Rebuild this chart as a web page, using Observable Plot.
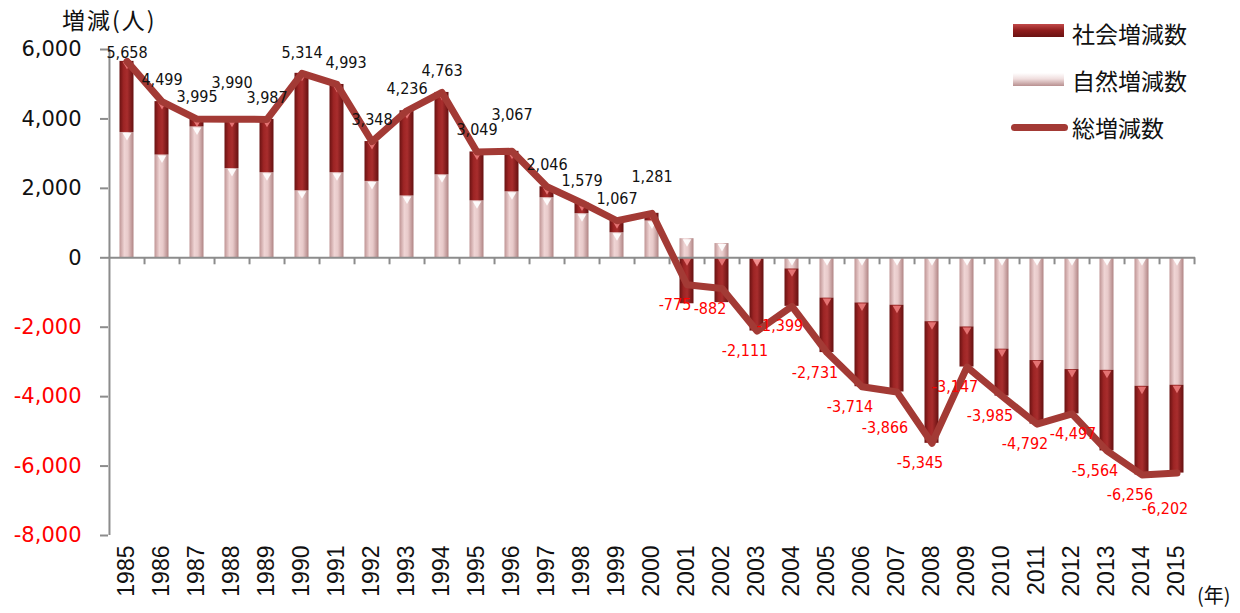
<!DOCTYPE html>
<html><head><meta charset="utf-8">
<script src="https://cdn.jsdelivr.net/npm/d3@7"></script>
<script src="https://cdn.jsdelivr.net/npm/@observablehq/plot@0.6"></script>
<style>
body{margin:0;background:#fff;}
#wrap{position:relative;width:1240px;height:613px;font-family:"Liberation Sans",Arial,sans-serif;overflow:hidden;}
.ov{position:absolute;white-space:nowrap;color:#111;}
.cjk{font-family:"Noto Sans CJK JP","Noto Sans",sans-serif;}
</style></head><body><div id="wrap"></div>
<script>
const years = [1985,1986,1987,1988,1989,1990,1991,1992,1993,1994,1995,1996,1997,1998,1999,2000,2001,2002,2003,2004,2005,2006,2007,2008,2009,2010,2011,2012,2013,2014,2015];
const totalChange = [5658,4499,3995,3990,3987,5314,4993,3348,4236,4763,3049,3067,2046,1579,1067,1281,-775,-882,-2111,-1399,-2731,-3714,-3866,-5345,-3147,-3985,-4792,-4497,-5564,-6256,-6202];
const naturalChange = [3610,2960,3770,2570,2450,1930,2450,2200,1780,2390,1640,1900,1730,1270,720,1060,550,410,-30,-320,-1160,-1300,-1365,-1840,-1990,-2630,-2960,-3220,-3240,-3700,-3670];
const socialChange = [2048,1539,225,1420,1537,3384,2543,1148,2456,2373,1409,1167,316,309,347,221,-1325,-1292,-2081,-1079,-1571,-2414,-2501,-3505,-1157,-1355,-1832,-1277,-2324,-2556,-2532];
const yTicks = [-8000,-6000,-4000,-2000,0,2000,4000,6000];
const seriesNames = ["自然増減数","社会増減数"];
const yTitle = "増減(人)";
const xUnit = "(年)";
const totalName = "総増減数";

const W = 1240, H = 613, mL = 108, mR = 45, mT = 49, mB = 78;
const bw = (W - mL - mR) / years.length;
const fmt = d => (d < 0 ? "-" : "") + d3.format(",")(Math.abs(d));
const lineColor = "#a33a35";
const labelFont = '"DejaVu Sans Condensed", "Liberation Sans Narrow", sans-serif';
const labelSize = 16;

const barRows = [
  ...years.map((y, i) => ({year: y, value: naturalChange[i], series: seriesNames[0]})),
  ...years.map((y, i) => ({year: y, value: socialChange[i], series: seriesNames[1]}))
];
const rows = years.map((y, i) => ({
  year: y, idx: i, total: totalChange[i], natural: naturalChange[i], social: socialChange[i]
}));
// top edge of each stacked segment (for the small bevel markers)
const naturalTop = d => Math.max(d.natural, 0);
const socialTop = d => d.social >= 0 ? Math.max(d.natural, 0) + d.social : Math.min(d.natural, 0);

// label placement with simple collision avoidance against the previous label
const ctx = document.createElement("canvas").getContext("2d");
ctx.font = `${labelSize}px ${labelFont}`;
const yScale = Plot.scale({y: {domain: [-8000, 6000], range: [H - mB, mT]}});
const CAND = {pos: [[0, -22], [0, -36], [9, -22], [0, -10]], neg: [[-12, 20], [-12, 36], [1, 20], [-12, 50]]};
let prev = null;
for (const d of rows) {
  const key = d.total >= 0 ? "pos" : "neg";
  const w = ctx.measureText(fmt(d.total)).width;
  const py = yScale.apply(d.total);
  const place = ([dx, dy]) => {
    if (key === "pos") dy = Math.max(dy, mT + 3 - py);
    return {dx, yl: py + dy};
  };
  const conflicts = p => prev && prev.key === key &&
    (bw + p.dx - prev.dx) < (w + prev.w) / 2 + 1 && Math.abs(p.yl - prev.yl) < 13;
  let chosen = place(CAND[key][0]);
  for (const c of CAND[key]) {
    const p = place(c);
    if (!conflicts(p)) { chosen = p; break; }
  }
  Object.assign(d, {dx: chosen.dx, ly: yScale.invert(chosen.yl), fill: key === "pos" ? "#111" : "#ff0000"});
  prev = {key, w, dx: chosen.dx, yl: chosen.yl};
}
const labelMarks = Array.from(d3.group(rows, d => d.dx + "|" + d.fill), ([, g]) =>
  Plot.text(g, {x: "year", y: "ly", text: d => fmt(d.total), dx: g[0].dx, fill: g[0].fill,
    fontSize: labelSize, fontFamily: labelFont}));

const svg = Plot.plot({
  width: W, height: H,
  marginLeft: mL, marginRight: mR, marginTop: mT, marginBottom: mB,
  x: {type: "band", domain: years, padding: 0, axis: null},
  y: {domain: [-8000, 6000], axis: null},
  color: {type: "identity"},
  style: {fontFamily: '"Liberation Sans", Arial, sans-serif', background: "white", overflow: "visible"},
  marks: [
    Plot.barY(barRows, {
      x: "year", y: "value", z: "series",
      fill: d => d.series === seriesNames[1] ? "url(#gSocial)" : "url(#gNatural)",
      insetLeft: 10.5, insetRight: 10.5
    }),
    Plot.dot(rows, {x: "year", y: naturalTop, symbol: "triangle", r: 3.2, rotate: 180, dy: 3, fill: "#ffffff", fillOpacity: 0.9}),
    Plot.dot(rows, {x: "year", y: socialTop, symbol: "triangle", r: 3.2, rotate: 180, dy: 3, fill: "#f08080", fillOpacity: 0.85}),
    Plot.ruleY([0], {stroke: "#8c8c8c", strokeWidth: 2}),
    Plot.ruleX(years, {x: d => d, dx: bw / 2, y1: 0, y2: 0, insetBottom: -7, stroke: "#8c8c8c", strokeWidth: 2}),
    Plot.ruleX([years[0]], {x: d => d, dx: -bw / 2, y1: -8000, y2: 6000, stroke: "#8c8c8c", strokeWidth: 2}),
    Plot.axisY({ticks: yTicks, tickSize: 8, tickFormat: () => "", stroke: "#8c8c8c", strokeWidth: 2}),
    Plot.text(yTicks, {y: d => d, frameAnchor: "left", dx: -27, textAnchor: "end", text: d => fmt(d),
      fill: d => d < 0 ? "#ff0000" : "#111", fontSize: 21, fontFamily: '"DejaVu Sans", sans-serif'}),
    Plot.axisX({anchor: "bottom", tickSize: 0, tickRotate: -90, tickPadding: 10, fontSize: 23, fill: "#111",
      tickFormat: d => String(d), label: null}),
    Plot.line(rows, {x: "year", y: "total", stroke: lineColor, strokeWidth: 7, strokeLinejoin: "round"}),
    ...labelMarks
  ]
});

// gradients for cylinder-like bars
const NS = "http://www.w3.org/2000/svg";
const defs = document.createElementNS(NS, "defs");
function grad(id, stops) {
  const g = document.createElementNS(NS, "linearGradient");
  g.setAttribute("id", id);
  g.setAttribute("x1", "0"); g.setAttribute("x2", "1"); g.setAttribute("y1", "0"); g.setAttribute("y2", "0");
  for (const [o, c] of stops) {
    const s = document.createElementNS(NS, "stop");
    s.setAttribute("offset", o); s.setAttribute("stop-color", c);
    g.appendChild(s);
  }
  defs.appendChild(g);
}
grad("gSocial", [["0%", "#6a1212"], ["30%", "#9e2525"], ["55%", "#a82d2d"], ["100%", "#651010"]]);
grad("gNatural", [["0%", "#bf9494"], ["35%", "#efd4d4"], ["60%", "#e8caca"], ["100%", "#b08484"]]);
svg.insertBefore(defs, svg.firstChild);

const wrap = document.getElementById("wrap");
wrap.appendChild(svg);
svg.style.position = "absolute"; svg.style.left = "0"; svg.style.top = "0";

function ov(html, css, cls) {
  const d = document.createElement("div");
  d.className = "ov " + (cls || "");
  d.textContent = html;
  Object.assign(d.style, css);
  wrap.appendChild(d);
  return d;
}
ov(yTitle, {left: "62px", top: "2px", fontSize: "23px", letterSpacing: "2px"}, "cjk");
ov(xUnit, {left: "1197px", top: "580px", fontSize: "20px"}, "cjk");
// legend
ov("", {left: "1013px", top: "24px", width: "51px", height: "13px", background: "linear-gradient(180deg,#c24a4a,#8e1c1c 50%,#6a1212)"});
ov("", {left: "1013px", top: "73px", width: "51px", height: "13px", background: "linear-gradient(180deg,#fff,#f0dede 45%,#b89090)"});
ov("", {left: "1011px", top: "124px", width: "57px", height: "7px", borderRadius: "4px", background: lineColor});
ov(seriesNames[1], {left: "1072px", top: "16px", fontSize: "23px"}, "cjk");
ov(seriesNames[0], {left: "1072px", top: "63px", fontSize: "23px"}, "cjk");
ov(totalName, {left: "1072px", top: "110px", fontSize: "23px"}, "cjk");
</script></body></html>
